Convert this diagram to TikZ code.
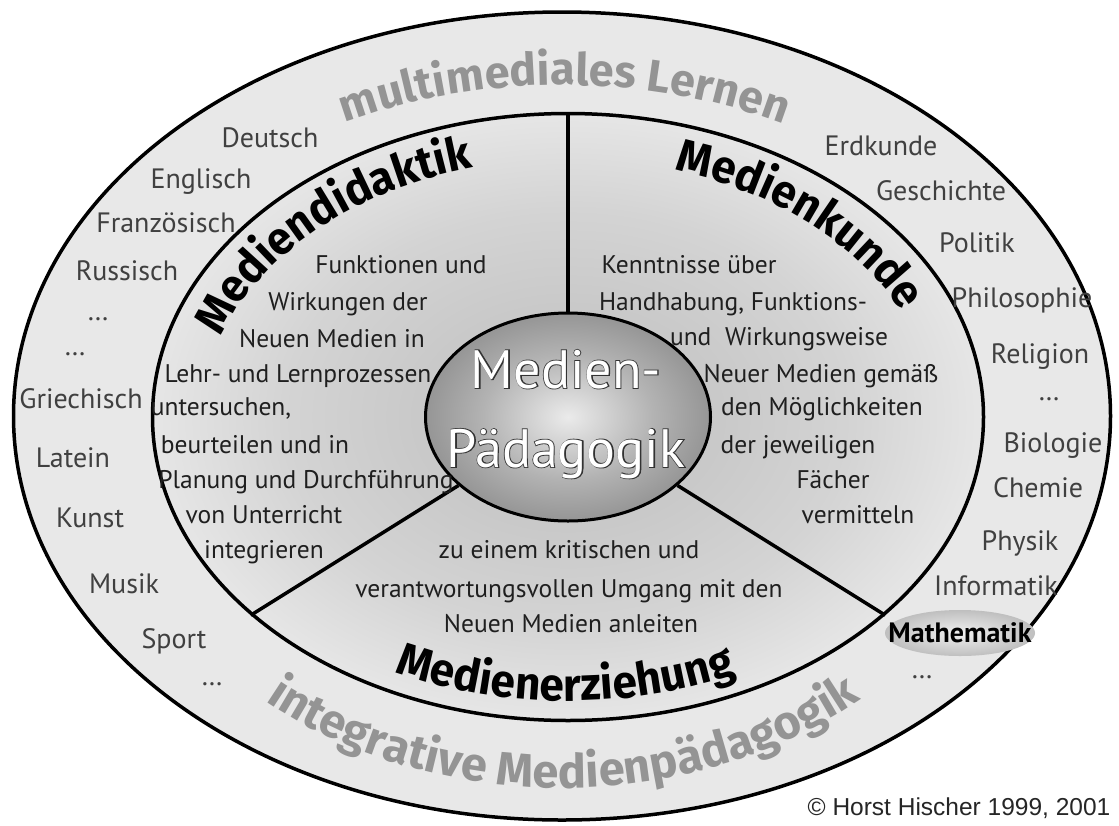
\documentclass[tikz,border=0pt]{standalone}
\usepackage{fontspec}
\setmainfont{PT Sans}
\newfontfamily\headfont{Fira Sans}[FakeStretch=0.96]
\newfontfamily\ringfont{Fira Sans}
\newfontfamily\copyfont{Liberation Sans}
\usetikzlibrary{shapes.geometric,decorations.text,calc}
\pgfdeclareradialshading{innershade}{\pgfpoint{0bp}{0bp}}{color(0bp)=(black!26); color(17bp)=(black!17); color(36bp)=(white); color(50bp)=(white)}
\pgfdeclareradialshading{ballshade}{\pgfpoint{0bp}{0bp}}{color(0bp)=(black!8); color(15bp)=(black!30); color(50bp)=(black!70)}
\pgfdeclareradialshading{mathshade}{\pgfpoint{0bp}{0bp}}{color(0bp)=(black!6); color(25bp)=(black!25); color(42bp)=(black!38); color(50bp)=(black!10)}
\newcommand\hdfmt{\headfont\bfseries\fontsize{46}{48}\selectfont}
\newcommand\ringfmtA{\ringfont\bfseries\fontsize{45}{47}\selectfont\color{black!42}}
\newcommand\ringfmtB{\ringfont\bfseries\fontsize{47}{49}\selectfont\color{black!42}}
\newcommand\whiteoutline[1]{\rlap{\addfontfeature{FakeBold=3}\color{black!80}#1}\color{white}#1}
\tikzset{
  ringline/.style={line width=3.5pt},
  subj/.style={anchor=base, inner sep=0, font=\fontsize{28}{30}\selectfont, text=black!75},
  desc/.style={anchor=base, inner sep=0, font=\fontsize{25.5}{28}\selectfont, text=black!88},
}
\begin{document}
\begin{tikzpicture}[x=1pt,y=1pt]
\useasboundingbox (0,0) rectangle (1119,-825);
\fill[white] (0,0) rectangle (1119,-825);
\coordinate (co) at (562,-416);
\coordinate (ci) at (568,-417);
% ellipses
\node[ellipse, draw, ringline, fill=black!9, minimum width=1097, minimum height=808, inner sep=0] (outer) at (co) {};
\node[ellipse, draw, ringline, shading=innershade, minimum width=831, minimum height=607, inner sep=0] (inner) at (ci) {};
\node[ellipse, draw, line width=3pt, shading=ballshade, minimum width=285, minimum height=208, inner sep=0] (ball) at (ci) {};
% radial lines
\draw[ringline] (ball.90) -- (inner.90);
\draw[ringline] (ball.212) -- (inner.212);
\draw[ringline] (ball.328) -- (inner.328);
% centre title (anchor base = baseline of last line)
\node[anchor=base, align=center, inner sep=0, font=\fontsize{54}{79}\selectfont, text=white] (title) at (566,-467) {\whiteoutline{Medien-}\\\whiteoutline{Pädagogik}};
% headings along arcs
\path[decorate, decoration={text along path, text={|\hdfmt|Mediendidaktik}}]
  ($(ci)+(162:365 and 258)$) arc[start angle=162, end angle=88, x radius=365, y radius=258];
\path[decorate, decoration={text along path, text={|\hdfmt|Medienkunde}}]
  ($(ci)+(73:365 and 258)$) arc[start angle=73, end angle=0, x radius=365, y radius=258];
\path[decorate, decoration={text along path, text={|\hdfmt|Medienerziehung}}]
  ($(ci)+(244:395 and 284)$) arc[start angle=244, end angle=312, x radius=395, y radius=284];
\path[decorate, decoration={text along path, text={|\ringfmtA|multimediales Lernen}}]
  ($(co)+(117.5:470 and 331)$) arc[start angle=117.5, end angle=40, x radius=470, y radius=331];
\path[decorate, decoration={text along path, text={|\ringfmtB|integrative Medienpädagogik}}]
  ($(co)+(230:462 and 372)$) arc[start angle=230, end angle=330, x radius=462, y radius=372];
% subjects left
\node[subj] (deutsch) at (270,-147) {Deutsch};
\node[subj] (englisch) at (201,-188) {Englisch};
\node[subj] (franz) at (166,-232) {Französisch};
\node[subj] (russ) at (127,-280) {Russisch};
\node[subj] (dotsA) at (98,-320) {\ldots};
\node[subj] (dotsB) at (75,-355) {\ldots};
\node[subj] (griech) at (81,-408) {Griechisch};
\node[subj] (latein) at (73,-467) {Latein};
\node[subj] (kunst) at (90,-527) {Kunst};
\node[subj] (musik) at (124,-593) {Musik};
\node[subj] (sport) at (174,-648) {Sport};
\node[subj] (dotsC) at (212,-685) {\ldots};
% subjects right
\node[subj] (erd) at (881,-155) {Erdkunde};
\node[subj] (gesch) at (941,-200) {Geschichte};
\node[subj] (pol) at (977,-252) {Politik};
\node[subj] (phil) at (1022,-307) {Philosophie};
\node[subj] (rel) at (1040,-363) {Religion};
\node[subj] (dotsD) at (1049,-400) {\ldots};
\node[subj] (bio) at (1053,-452) {Biologie};
\node[subj] (chem) at (1038,-497) {Chemie};
\node[subj] (phys) at (1020,-550) {Physik};
\node[subj] (info) at (996,-595) {Informatik};
\node[ellipse, shading=mathshade, minimum width=150, minimum height=46, inner sep=0] (mathbg) at (960,-633) {};
\node[anchor=base, inner sep=0, font=\bfseries\fontsize{28}{30}\selectfont, text=black] (mathe) at (960,-642) {Mathematik};
\node[subj] (dotsE) at (922,-678) {\ldots};
% Mediendidaktik description
\node[desc] (l1) at (401,-273) {Funktionen und};
\node[desc] (l2) at (348,-310) {Wirkungen der};
\node[desc] (l3) at (332,-347) {Neuen Medien in};
\node[desc] (l4) at (298,-382) {Lehr- und Lernprozessen};
\node[desc] (l5) at (221,-415) {untersuchen,};
\node[desc] (l6) at (255,-453) {beurteilen und in};
\node[desc] (l7) at (306,-488) {Planung und Durchführung};
\node[desc] (l8) at (264,-523) {von Unterricht};
\node[desc] (l9) at (264,-558) {integrieren};
% Medienkunde description
\node[desc] (r1) at (689,-273) {Kenntnisse über};
\node[desc] (r2) at (733,-310) {Handhabung, Funktions-};
\node[desc] (r3) at (779,-345) {und\ \ Wirkungsweise};
\node[desc] (r4) at (821,-382) {Neuer Medien gemäß};
\node[desc] (r5) at (822,-415) {den Möglichkeiten};
\node[desc] (r6) at (798,-453) {der jeweiligen};
\node[desc] (r7) at (833,-488) {Fächer};
\node[desc] (r8) at (858,-523) {vermitteln};
% Medienerziehung description
\node[desc] (b1) at (569,-558) {zu einem kritischen und};
\node[desc] (b2) at (569,-597) {verantwortungsvollen Umgang mit den};
\node[desc] (b3) at (571,-632) {Neuen Medien anleiten};
% copyright
\node[anchor=base, inner sep=0, font=\copyfont\fontsize{24.5}{27}\selectfont, text=black!85] (copy) at (959,-815) {© Horst Hischer 1999, 2001};
\end{tikzpicture}
\end{document}
